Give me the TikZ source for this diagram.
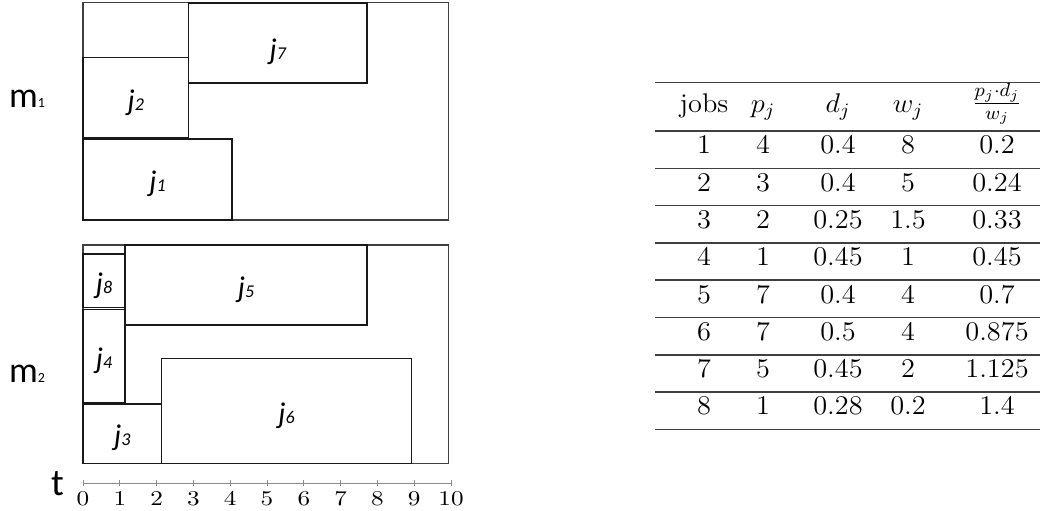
\RequirePackage{fix-cm}
\documentclass[tikz,border=0pt]{standalone}
\usepackage{amsmath,amssymb}
\usepackage{fontspec}
\usepackage{tikz}
\usetikzlibrary{positioning, fit, calc}
\newfontfamily\labelfont{Carlito}
\newcommand{\joblbl}[1]{{\labelfont\fontsize{15}{17}\selectfont\itshape j\fontsize{9}{10}\selectfont #1}}
\newcommand{\machlbl}[1]{{\labelfont\fontsize{18}{20}\selectfont m\fontsize{7}{8}\selectfont #1}}
\tikzstyle{machine} = [draw=black!75, line width=0.6pt, inner sep=0pt]
\tikzstyle{job} = [draw=black!90, line width=0.6pt, inner sep=0pt]
\tikzstyle{joblabel} = [inner sep=0pt, yshift=-2.25pt]
\tikzstyle{cell} = [anchor=base, inner sep=0pt, font=\fontsize{13.5}{15}\selectfont, xscale=1.05]
\tikzstyle{tablerule} = [draw=black!75, line width=0.75pt]
\tikzstyle{tick} = [draw=black!45, line width=0.5pt]
\tikzstyle{ticklbl} = [anchor=base, inner sep=0pt, font=\fontsize{10.5}{12}\selectfont, xscale=1.2]

\begin{document}
\begin{tikzpicture}[x=0.5pt, y=-0.5pt]
    \useasboundingbox (0,0) rectangle (1041,510);

    % machine labels
    \node (m1) [anchor=base, inner sep=0pt] at (27,107) {\machlbl{1}};
    \node (m2) [anchor=base, inner sep=0pt] at (27,382) {\machlbl{2}};
    \node (tlbl) [anchor=base, inner sep=0pt] at (57.5,495) {\labelfont\fontsize{19}{21}\selectfont t};

    % gantt chart, x in time units
    \begin{scope}[xshift=41.5pt, x=18.4pt]
        \node (mach1) [machine, fit={(0,2.3) (9.94,220)}] {};
        \node (j1) [job, fit={(0,139) (4.05,220)}] {};
        \node (j2) [job, fit={(0,57.7) (2.87,138)}] {};
        \node (j7) [job, fit={(2.87,3) (7.72,83)}] {};

        \node (mach2) [machine, fit={(0,245) (9.94,463.3)}] {};
        \node (j8) [job, fit={(0,254) (1.14,307.7)}] {};
        \node (j5) [job, fit={(1.14,245) (7.72,325)}] {};
        \node (j4) [job, fit={(0,309.7) (1.14,402.7)}] {};
        \node (j3) [job, fit={(0,404) (2.14,463.3)}] {};
        \node (j6) [job, fit={(2.14,358.3) (8.92,463.3)}] {};

        \foreach \j in {1,2,3,4,5,6,8}
            \node (lbl\j) [joblabel] at (j\j.center) {\joblbl{\j}};
        \node (lbl7) [joblabel, yshift=-2pt] at (j7.center) {\joblbl{7}};

        % time axis
        \draw [tick] (0,483) -- (10,483);
        \foreach \k in {0,...,10} {
            \draw [tick] (\k,480) -- (\k,486);
            \node (t\k) [ticklbl] at (\k,505) {\k};
        }
    \end{scope}

    % table
    \draw [tablerule] (655,82.3) -- (1040,82.3);
    \foreach \k in {0,...,8}
        \draw [tablerule] (655,131+37.3*\k) -- (1040,131+37.3*\k);

    \node (hjobs) [cell] at (704,112) {jobs};
    \node (hp) [cell] at (763,112) {$p_j$};
    \node (hd) [cell] at (838,112) {$d_j$};
    \node (hw) [cell] at (908,112) {$w_j$};
    \node (hr) [cell] at (997,110) {$\frac{p_j\cdot d_j}{w_j}$};

    \foreach \job/\p/\d/\w/\r [count=\i] in {1/4/0.4/8/0.2, 2/3/0.4/5/0.24, 3/2/0.25/1.5/0.33, 4/1/0.45/1/0.45, 5/7/0.4/4/0.7, 6/7/0.5/4/0.875, 7/5/0.45/2/1.125, 8/1/0.28/0.2/1.4} {
        \pgfmathsetmacro\yb{131+37.3*\i-14.5}
        \node (c\i-1) [cell] at (704,\yb) {\job};
        \node (c\i-2) [cell] at (763,\yb) {\p};
        \node (c\i-3) [cell] at (838,\yb) {\d};
        \node (c\i-4) [cell] at (908,\yb) {\w};
        \node (c\i-5) [cell] at (997,\yb) {\r};
    }
\end{tikzpicture}
\end{document}
